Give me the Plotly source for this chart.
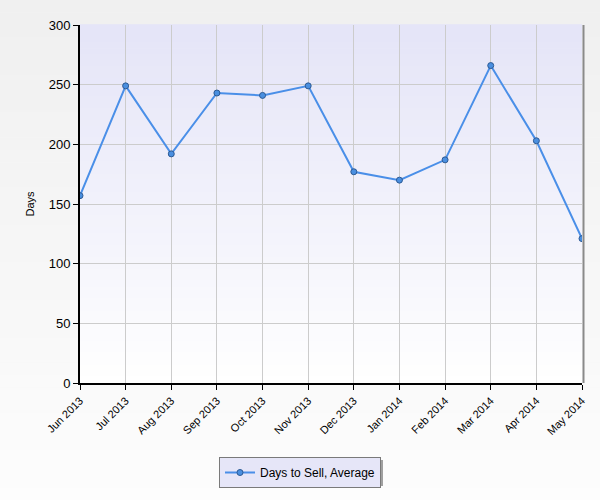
import plotly.graph_objects as go

months = ["Jun 2013", "Jul 2013", "Aug 2013", "Sep 2013", "Oct 2013", "Nov 2013",
          "Dec 2013", "Jan 2014", "Feb 2014", "Mar 2014", "Apr 2014", "May 2014"]
days_avg = [157, 249, 192, 243, 241, 249, 177, 170, 187, 266, 203, 121]
y_ticks = [0, 50, 100, 150, 200, 250, 300]

L, R, T, B = 80, 18, 25, 117
W, H = 600, 500
pw, ph = W - L - R, H - T - B


def px_x(v):
    return (v - L) / pw


def px_y(v):
    return (H - B - v) / ph


fig = go.Figure()
fig.add_trace(go.Scatter(
    x=months, y=days_avg, mode="lines+markers", name="Days to Sell, Average",
    line=dict(color="#4a8fe8", width=2),
    marker=dict(size=6, color="#4a8fe0", line=dict(color="#2d5a94", width=1)),
))

shapes = []
# page gradient
n = 40
x0p, x1p = -L / pw, 1 + R / pw
y0p, y1p = -B / ph, 1 + T / ph
for i in range(n):
    f = i / (n - 1)
    c = int(240 + (253 - 240) * f)
    ya = y1p - (y1p - y0p) * i / n
    yb = y1p - (y1p - y0p) * (i + 1) / n
    shapes.append(dict(type="rect", xref="paper", yref="paper", x0=x0p, x1=x1p,
                       y0=yb, y1=ya + 0.001, fillcolor=f"rgb({c},{c},{c})",
                       line=dict(width=0), layer="below"))
# plot area gradient
n = 60
for i in range(n):
    f = i / (n - 1)
    r = int(229 + (255 - 229) * f)
    b = int(248 + (255 - 248) * f)
    ya = 1 - i / n
    yb = 1 - (i + 1) / n
    shapes.append(dict(type="rect", xref="paper", yref="paper", x0=0, x1=1,
                       y0=yb, y1=ya + 0.002, fillcolor=f"rgb({r},{r},{b})",
                       line=dict(width=0), layer="below"))
# right border
shapes.append(dict(type="line", xref="paper", yref="paper", x0=1.003, x1=1.003,
                   y0=0, y1=1, line=dict(color="#8a8a8a", width=2)))
# legend shadow
shapes.append(dict(type="rect", xref="paper", yref="paper",
                   x0=px_x(223), x1=px_x(383), y0=px_y(486), y1=px_y(460),
                   fillcolor="#a0a0a0", line=dict(width=0)))

fig.update_layout(
    width=W, height=H,
    margin=dict(l=L, r=R, t=T, b=B),
    paper_bgcolor="#f6f6f6",
    plot_bgcolor="rgba(0,0,0,0)",
    shapes=shapes,
    font=dict(family="Liberation Sans, Arial, sans-serif", color="#000000", size=12),
    showlegend=True,
    legend=dict(orientation="h", x=px_x(300), xanchor="center",
                y=px_y(457), yanchor="top",
                bgcolor="#e6e6f8", bordercolor="#7a7a7a", borderwidth=1,
                font=dict(size=12, color="#000000")),
    xaxis=dict(
        type="category", range=[0, len(months) - 1],
        showgrid=True, gridcolor="#cccccc", gridwidth=1,
        showline=True, linecolor="#000000", linewidth=2,
        ticks="outside", ticklen=5, tickcolor="#000000",
        tickangle=-45, tickfont=dict(size=11),
        zeroline=False,
    ),
    yaxis=dict(
        range=[0, 300], tickvals=y_ticks,
        showgrid=True, gridcolor="#cccccc", gridwidth=1,
        showline=True, linecolor="#000000", linewidth=2,
        ticks="outside", ticklen=5, tickcolor="#000000",
        tickfont=dict(size=13),
        title=dict(text="Days", font=dict(size=11), standoff=12),
        zeroline=False,
    ),
)

fig.write_html("out.html")
